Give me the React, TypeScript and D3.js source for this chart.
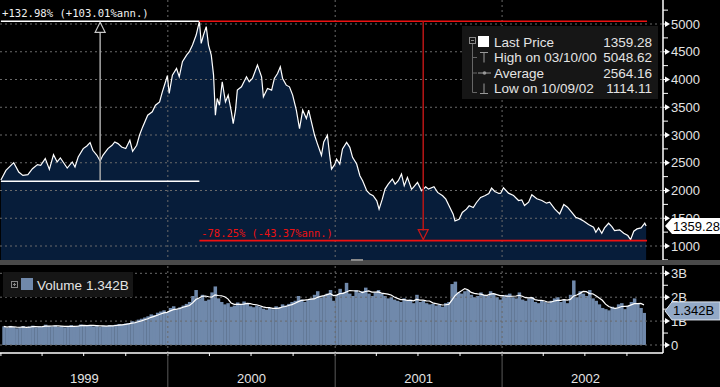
import * as d3 from 'd3';
import React, { useEffect, useRef } from 'react';

const WIDTH = 720;
const HEIGHT = 387;
const AXIS_X = 663;
const PRICE_BOTTOM = 260;
const VOL_TOP = 266;
const VOL_BOTTOM = 353;

// Weekly closes
const priceDates = [
  '1999-01-01', '1999-01-12', '1999-01-29', '1999-02-09', '1999-02-18', '1999-03-01', '1999-03-11', '1999-03-22',
  '1999-03-29', '1999-04-08', '1999-04-17', '1999-04-26', '1999-05-04', '1999-05-11', '1999-05-17', '1999-05-26',
  '1999-06-06', '1999-06-12', '1999-06-19', '1999-06-30', '1999-07-08', '1999-07-15', '1999-07-21', '1999-07-30',
  '1999-08-06', '1999-08-12', '1999-08-23', '1999-09-01', '1999-09-07', '1999-09-14', '1999-09-22', '1999-10-01',
  '1999-10-10', '1999-10-16', '1999-10-25', '1999-10-31', '1999-11-07', '1999-11-18', '1999-11-28', '1999-12-05',
  '1999-12-14', '1999-12-20', '1999-12-27', '1999-12-31',
  '2000-01-04', '2000-01-11', '2000-01-20', '2000-01-26', '2000-02-02', '2000-02-11', '2000-02-17', '2000-02-24',
  '2000-03-03', '2000-03-10', '2000-03-14', '2000-03-19', '2000-03-25', '2000-03-30', '2000-04-05', '2000-04-10',
  '2000-04-14', '2000-04-18', '2000-04-23', '2000-04-29', '2000-05-06', '2000-05-12', '2000-05-19', '2000-05-23',
  '2000-05-28', '2000-06-01', '2000-06-10', '2000-06-21', '2000-06-27', '2000-07-04', '2000-07-15', '2000-07-24',
  '2000-07-28', '2000-08-06', '2000-08-15', '2000-08-21', '2000-08-28', '2000-09-03', '2000-09-08', '2000-09-16',
  '2000-09-23', '2000-09-30', '2000-10-08', '2000-10-15', '2000-10-22', '2000-10-30', '2000-11-04', '2000-11-10',
  '2000-11-17', '2000-11-23', '2000-12-02', '2000-12-07', '2000-12-15', '2000-12-20', '2000-12-24', '2000-12-31',
  '2001-01-04', '2001-01-11', '2001-01-17', '2001-01-26', '2001-02-02', '2001-02-08', '2001-02-17', '2001-02-24',
  '2001-03-02', '2001-03-11', '2001-03-18', '2001-03-25', '2001-04-02', '2001-04-07', '2001-04-14', '2001-04-20',
  '2001-04-27', '2001-05-06', '2001-05-12', '2001-05-19', '2001-05-26', '2001-06-01', '2001-06-08', '2001-06-17',
  '2001-06-21', '2001-06-30', '2001-07-09', '2001-07-18', '2001-07-24', '2001-08-05', '2001-08-13', '2001-08-24',
  '2001-08-31', '2001-09-07', '2001-09-16', '2001-09-20', '2001-09-29', '2001-10-06', '2001-10-15', '2001-10-21',
  '2001-10-30', '2001-11-06', '2001-11-15', '2001-11-24', '2001-12-03', '2001-12-09', '2001-12-16', '2001-12-25',
  '2001-12-29',
  '2002-01-04', '2002-01-15', '2002-01-26', '2002-02-06', '2002-02-13', '2002-02-19', '2002-02-28', '2002-03-07',
  '2002-03-18', '2002-03-29', '2002-04-08', '2002-04-15', '2002-04-26', '2002-05-07', '2002-05-16', '2002-05-24',
  '2002-06-02', '2002-06-11', '2002-06-20', '2002-06-29', '2002-07-09', '2002-07-20', '2002-07-25', '2002-07-31',
  '2002-08-07', '2002-08-13', '2002-08-22', '2002-08-29', '2002-09-04', '2002-09-15', '2002-09-24', '2002-10-03',
  '2002-10-09', '2002-10-16', '2002-10-23', '2002-11-01', '2002-11-09', '2002-11-12',
];
const priceValues = [
  2190, 2363, 2502, 2333, 2273, 2285, 2393, 2466,
  2454, 2574, 2381, 2646, 2514, 2586, 2514, 2405,
  2514, 2423, 2604, 2755, 2803, 2863, 2724, 2634,
  2532, 2634, 2755, 2815, 2875, 2845, 2785, 2755,
  2905, 2706, 2815, 2995, 3146, 3357, 3417, 3537,
  3597, 3778, 3960, 4069,
  3748, 4079, 4199, 4049, 4320, 4440, 4500, 4621,
  4801, 5048.62, 4651, 4801, 4952, 4621, 4440, 4079,
  3357, 3658, 3537, 3959, 3597, 3718, 3417, 3206,
  3447, 3808, 3868, 4049, 3959, 4019, 4260, 4049,
  3688, 3838, 3808, 4019, 4109, 4229, 4019, 3898,
  3868, 3718, 3447, 3116, 3447, 3296, 3447, 3236,
  2995, 2845, 2634, 2875, 2995, 2627, 2386, 2470,
  2567, 2477, 2748, 2868, 2778, 2597, 2477, 2266,
  2176, 1995, 1935, 1905, 1814, 1664, 1844, 2025,
  2115, 2206, 2115, 2176, 2296, 2085, 2236, 2025,
  2055, 2145, 1995, 2067, 2025, 2067, 1965, 1905,
  1844, 1724, 1574, 1453, 1483, 1604, 1664, 1724,
  1694, 1784, 1875, 1905, 1947, 2043, 1983, 1947,
  1952,
  2048, 1952, 1910, 1820, 1832, 1729, 1790, 1922,
  1850, 1820, 1772, 1790, 1669, 1579, 1747, 1699,
  1609, 1519, 1489, 1447, 1386, 1338, 1248, 1326,
  1230, 1326, 1410, 1350, 1278, 1290, 1230, 1188,
  1114.11, 1266, 1308, 1326, 1410, 1359.28,
];

// Weekly volume in billions, starting the week of 1999-01-04
const volumeStart = '1999-01-04';
const volumeValues = [
  0.78, 0.72, 0.8, 0.75, 0.7, 0.74, 0.79, 0.72, 0.77, 0.81, 0.74, 0.78, 0.76,
  0.85, 0.8, 0.78, 0.82, 0.76, 0.79, 0.74, 0.77, 0.83, 0.78, 0.8, 0.86, 0.82,
  0.8, 0.84, 0.78, 0.82, 0.76, 0.8, 0.79, 0.83, 0.81, 0.85, 0.88, 0.86, 0.9,
  0.92, 1.0, 0.98, 1.06, 1.1, 1.15, 1.2, 1.28, 1.25, 1.35, 1.4, 1.45, 1.38,
  1.55, 1.62, 1.5, 1.58, 1.65, 1.72, 1.8, 2.05, 2.3, 1.95, 2.1, 1.85, 1.9,
  2.2, 2.45, 1.95, 1.8, 1.7, 1.75, 1.6, 1.65, 1.78, 1.7, 1.82, 1.75, 1.62,
  1.58, 1.65, 1.6, 1.52, 1.48, 1.55, 1.5, 1.62, 1.58, 1.7, 1.65, 1.72, 1.8,
  1.85, 2.05, 1.9, 1.8, 1.88, 1.95, 2.1, 2.25, 1.98, 2.05, 2.15, 2.3, 1.85,
  2.1, 2.35, 2.2, 2.6, 2.15, 2.05, 2.3, 2.2, 2.25, 2.4, 2.15, 2.05, 2.2,
  2.3, 2.15, 2.05, 1.95, 2.0, 1.9, 1.85, 1.8, 1.95, 1.85, 1.9, 1.75, 2.1,
  1.8, 1.85, 1.75, 1.7, 1.72, 1.65, 1.7, 1.6, 1.75, 1.8, 2.55, 2.65, 2.2,
  2.15, 2.25, 2.3, 2.1, 2.0, 2.05, 2.2, 2.1, 2.05, 2.25, 2.15, 2.0, 1.9,
  2.05, 2.1, 2.15, 2.0, 1.95, 2.2, 1.9, 1.85, 1.95, 2.0, 1.8, 1.75, 1.85,
  1.8, 1.75, 1.85, 1.95, 2.0, 1.8, 1.9, 1.75, 2.1, 2.7, 2.0, 2.25, 2.15,
  2.05, 2.3, 1.95, 1.85, 1.7, 1.55, 1.5, 1.45, 1.6, 1.55, 1.7, 1.75, 1.5,
  1.65, 1.8, 1.95, 1.75, 1.55, 1.342,
];

const priceTicks = [1000, 1500, 2000, 2500, 3000, 3500, 4000, 4500, 5000];
const volumeTicks = [0, 1, 2, 3];
const volumeTickLabels = ['0', '1B', '2B', '3B'];
const yearLabels = ['1999', '2000', '2001', '2002'];
const legendRows = [
  ['Last Price', '1359.28'],
  ['High on 03/10/00', '5048.62'],
  ['Average', '2564.16'],
  ['Low on 10/09/02', '1114.11'],
];
const gainText = '+132.98% (+103.01%ann.)';
const lossText = '-78.25% (-43.37%ann.)';
const highValue = 5048.62;
const gainPct = 132.98;
const lossPct = -78.25;
const highDate = '2000-03-10';
const endDate = '2002-11-14';
const lastPrice = '1359.28';
const lastVolume = '1.342B';

const FONT = '"Liberation Sans", Arial, sans-serif';
const MONO = '"DejaVu Sans Mono", monospace';
const NAVY = '#071d3a';
const SLATE = '#7089ab';
const TEXT = '#e4e4e4';
const GRID = '#6a6a6a';
const RED = '#ee1111';

const App = (): JSX.Element => {
  const ref = useRef<SVGSVGElement>(null);

  useEffect(() => {
    if (ref.current === null) return;
    ref.current.replaceChildren();

    const parse = d3.timeParse('%Y-%m-%d');
    const price = priceDates.map((d, i) => ({ date: parse(d) as Date, value: priceValues[i] }));
    const volStart = parse(volumeStart) as Date;
    const volume = volumeValues.map((v, i) => ({
      date: d3.timeWeek.offset(volStart, i),
      value: v,
      ma: d3.mean(volumeValues.slice(Math.max(0, i - 4), i + 1)) as number,
    }));

    const x = d3
      .scaleTime()
      .domain([new Date(1998, 11, 30), new Date(2003, 0, 1)])
      .range([0, 669]);
    const y = d3.scaleLinear().domain([1000, 5000]).range([246, 24]);
    const yv = d3.scaleLinear().domain([0, 3]).range([345, 273.3]);

    const svg = d3.select(ref.current).attr('width', WIDTH).attr('height', HEIGHT);

    svg.append('rect').attr('width', WIDTH).attr('height', HEIGHT).attr('fill', '#000');

    const defs = svg.append('defs');
    defs
      .append('clipPath')
      .attr('id', 'price-clip')
      .append('rect')
      .attr('x', 0)
      .attr('y', 0)
      .attr('width', AXIS_X)
      .attr('height', PRICE_BOTTOM);

    const years = yearLabels.map((l) => new Date(+l, 0, 1));
    const yearEdges = [...years.slice(1)];

    // Price area + line
    const priceG = svg.append('g').attr('clip-path', 'url(#price-clip)');
    priceG
      .append('path')
      .datum(price)
      .attr('fill', NAVY)
      .attr(
        'd',
        d3
          .area<{ date: Date; value: number }>()
          .x((d) => x(d.date))
          .y0(PRICE_BOTTOM)
          .y1((d) => y(d.value)),
      );

    // Price grid
    priceG
      .append('g')
      .selectAll('line')
      .data(priceTicks)
      .join('line')
      .attr('x1', 0)
      .attr('x2', AXIS_X)
      .attr('y1', (d) => y(d))
      .attr('y2', (d) => y(d))
      .attr('stroke', GRID)
      .attr('stroke-dasharray', '2,3');
    priceG
      .append('g')
      .selectAll('line')
      .data(yearEdges)
      .join('line')
      .attr('x1', (d) => x(d))
      .attr('x2', (d) => x(d))
      .attr('y1', 0)
      .attr('y2', PRICE_BOTTOM)
      .attr('stroke', GRID)
      .attr('stroke-dasharray', '2,3');

    priceG
      .append('path')
      .datum(price)
      .attr('fill', 'none')
      .attr('stroke', '#fff')
      .attr('stroke-width', 1.2)
      .attr(
        'd',
        d3
          .line<{ date: Date; value: number }>()
          .x((d) => x(d.date))
          .y((d) => y(d.value)),
      );

    // Gain annotation (white)
    const startValue = highValue / (1 + gainPct / 100);
    const xStart = x(price[0].date);
    const xHigh = x(parse(highDate) as Date);
    const xEnd = x(parse(endDate) as Date);
    const xMidGain = (xStart + xHigh) / 2;
    svg
      .append('line')
      .attr('x1', xStart)
      .attr('x2', xHigh)
      .attr('y1', y(highValue))
      .attr('y2', y(highValue))
      .attr('stroke', '#fff')
      .attr('stroke-width', 1.5);
    svg
      .append('line')
      .attr('x1', xStart)
      .attr('x2', xHigh)
      .attr('y1', y(startValue))
      .attr('y2', y(startValue))
      .attr('stroke', '#fff')
      .attr('stroke-width', 1.5);
    svg
      .append('line')
      .attr('x1', xMidGain)
      .attr('x2', xMidGain)
      .attr('y1', y(startValue))
      .attr('y2', y(highValue) + 10)
      .attr('stroke', '#a8a8a8')
      .attr('stroke-width', 1.5);
    svg
      .append('path')
      .attr(
        'd',
        `M${xMidGain},${y(highValue) + 1}L${xMidGain - 5},${y(highValue) + 11}L${xMidGain + 5},${y(highValue) + 11}Z`,
      )
      .attr('fill', '#000')
      .attr('stroke', '#c8c8c8')
      .attr('stroke-width', 1.2);
    svg
      .append('text')
      .attr('x', 2)
      .attr('y', y(highValue) - 4)
      .attr('fill', '#f0f0f0')
      .style('font', `10.6px ${MONO}`)
      .text(gainText);

    // Loss annotation (red)
    const lowValue = highValue * (1 + lossPct / 100);
    const xMidLoss = (xHigh + xEnd) / 2;
    svg
      .append('line')
      .attr('x1', xHigh)
      .attr('x2', xEnd)
      .attr('y1', y(highValue))
      .attr('y2', y(highValue))
      .attr('stroke', RED)
      .attr('stroke-width', 1.5);
    svg
      .append('line')
      .attr('x1', xHigh)
      .attr('x2', xEnd)
      .attr('y1', y(lowValue))
      .attr('y2', y(lowValue))
      .attr('stroke', RED)
      .attr('stroke-width', 1.8);
    svg
      .append('line')
      .attr('x1', xMidLoss)
      .attr('x2', xMidLoss)
      .attr('y1', y(highValue))
      .attr('y2', y(lowValue) - 10)
      .attr('stroke', '#b81616')
      .attr('stroke-width', 1.5);
    svg
      .append('path')
      .attr(
        'd',
        `M${xMidLoss},${y(lowValue) - 1}L${xMidLoss - 5},${y(lowValue) - 11}L${xMidLoss + 5},${y(lowValue) - 11}Z`,
      )
      .attr('fill', 'none')
      .attr('stroke', '#c81818')
      .attr('stroke-width', 1.2);
    svg
      .append('text')
      .attr('x', xHigh + 2)
      .attr('y', y(lowValue) - 4)
      .attr('fill', RED)
      .style('font', `10.4px ${MONO}`)
      .text(lossText);

    // Price legend
    const lg = svg.append('g');
    lg.append('rect').attr('x', 462).attr('y', 26).attr('width', 196).attr('height', 73).attr('fill', '#161616');
    const rowY = (i: number) => 42 + i * 15.5;
    lg.append('rect')
      .attr('x', 469.5)
      .attr('y', 37.5)
      .attr('width', 6)
      .attr('height', 6)
      .attr('fill', 'none')
      .attr('stroke', '#888');
    lg.append('line').attr('x1', 471).attr('x2', 474).attr('y1', 40.5).attr('y2', 40.5).attr('stroke', '#888');
    lg.append('rect').attr('x', 478).attr('y', 36).attr('width', 11).attr('height', 11).attr('fill', '#fff');
    lg.append('line')
      .attr('x1', 472.5)
      .attr('x2', 472.5)
      .attr('y1', 44)
      .attr('y2', rowY(3) + 4)
      .attr('stroke', '#666');
    [1, 2, 3].forEach((i) => {
      lg.append('line')
        .attr('x1', 472.5)
        .attr('x2', 477)
        .attr('y1', rowY(i) + (i === 3 ? 4 : 0))
        .attr('y2', rowY(i) + (i === 3 ? 4 : 0))
        .attr('stroke', '#666');
    });
    lg.append('path')
      .attr('d', `M480,${rowY(1) - 5}H488M484,${rowY(1) - 5}V${rowY(1) + 5}`)
      .attr('stroke', '#999')
      .attr('fill', 'none');
    lg.append('path').attr('d', `M478,${rowY(2)}H491`).attr('stroke', '#999');
    lg.append('circle').attr('cx', 484.5).attr('cy', rowY(2)).attr('r', 1.8).attr('fill', '#999');
    lg.append('path')
      .attr('d', `M480,${rowY(3) + 5}H488M484,${rowY(3) - 5}V${rowY(3) + 5}`)
      .attr('stroke', '#999')
      .attr('fill', 'none');
    lg.selectAll('text.lbl')
      .data(legendRows)
      .join('text')
      .attr('class', 'lbl')
      .attr('x', 494)
      .attr('y', (_, i) => rowY(i) + 4.5)
      .attr('fill', TEXT)
      .style('font', `13.5px ${FONT}`)
      .text((d) => d[0]);
    lg.selectAll('text.val')
      .data(legendRows)
      .join('text')
      .attr('class', 'val')
      .attr('x', 652)
      .attr('y', (_, i) => rowY(i) + 4.5)
      .attr('text-anchor', 'end')
      .attr('fill', TEXT)
      .style('font', `13.5px ${FONT}`)
      .text((d) => d[1]);

    // Right price axis
    const axisG = svg.append('g');
    axisG
      .append('line')
      .attr('x1', AXIS_X)
      .attr('x2', AXIS_X)
      .attr('y1', 0)
      .attr('y2', PRICE_BOTTOM)
      .attr('stroke', '#fff')
      .attr('stroke-width', 1.5);
    axisG
      .selectAll('line.minor')
      .data(d3.range(750, 5500, 250))
      .join('line')
      .attr('class', 'minor')
      .attr('x1', AXIS_X)
      .attr('x2', AXIS_X + 5)
      .attr('y1', (d) => y(d))
      .attr('y2', (d) => y(d))
      .attr('stroke', '#fff');
    const priceLabels = axisG.selectAll('g.tl').data(priceTicks).join('g').attr('class', 'tl');
    priceLabels
      .append('path')
      .attr('d', (d) => `M${AXIS_X + 2},${y(d) - 3}L${AXIS_X + 7},${y(d)}L${AXIS_X + 2},${y(d) + 3}Z`)
      .attr('fill', '#fff');
    priceLabels
      .append('text')
      .attr('x', AXIS_X + 8)
      .attr('y', (d) => y(d) + 4.5)
      .attr('fill', TEXT)
      .style('font', `13px ${FONT}`)
      .text((d) => d);

    const yLast = y(+lastPrice);
    axisG
      .append('path')
      .attr(
        'd',
        `M${AXIS_X + 2},${yLast}L${AXIS_X + 9},${yLast - 8}H720V${yLast + 8}H${AXIS_X + 9}Z`,
      )
      .attr('fill', '#fff');
    axisG
      .append('text')
      .attr('x', AXIS_X + 10)
      .attr('y', yLast + 4.5)
      .attr('fill', '#000')
      .style('font', `13px ${FONT}`)
      .text(lastPrice);

    // Panel separator
    svg.append('rect').attr('x', 0).attr('y', 260).attr('width', WIDTH).attr('height', 5).attr('fill', '#4a4a4a');
    svg.append('rect').attr('x', 351).attr('y', 259).attr('width', 12).attr('height', 2).attr('fill', '#8a8a8a');

    // Volume panel
    const volG = svg.append('g');
    volG
      .selectAll('rect')
      .data(volume)
      .join('rect')
      .attr('x', (d) => x(d.date))
      .attr('width', (d) => x(d3.timeWeek.offset(d.date, 1)) - x(d.date) + 0.3)
      .attr('y', (d) => yv(d.value))
      .attr('height', (d) => yv(0) - yv(d.value))
      .attr('fill', SLATE);
    volG
      .append('g')
      .selectAll('line')
      .data(volumeTicks)
      .join('line')
      .attr('x1', 0)
      .attr('x2', AXIS_X)
      .attr('y1', (d) => yv(d))
      .attr('y2', (d) => yv(d))
      .attr('stroke', GRID)
      .attr('stroke-dasharray', '2,3');
    volG
      .append('g')
      .selectAll('line')
      .data(yearEdges)
      .join('line')
      .attr('x1', (d) => x(d))
      .attr('x2', (d) => x(d))
      .attr('y1', VOL_TOP)
      .attr('y2', VOL_BOTTOM)
      .attr('stroke', GRID)
      .attr('stroke-dasharray', '2,3');
    volG
      .append('path')
      .datum(volume)
      .attr('fill', 'none')
      .attr('stroke', '#fff')
      .attr('stroke-width', 1.2)
      .attr(
        'd',
        d3
          .line<{ date: Date; ma: number }>()
          .x((d) => x(d.date) + 1.5)
          .y((d) => yv(d.ma)),
      );

    // Volume legend
    const vl = svg.append('g');
    vl.append('rect').attr('x', 3).attr('y', 272).attr('width', 130).attr('height', 25).attr('fill', '#161616');
    vl.append('rect')
      .attr('x', 11.5)
      .attr('y', 281.5)
      .attr('width', 6)
      .attr('height', 6)
      .attr('fill', 'none')
      .attr('stroke', '#888');
    vl.append('path').attr('d', 'M13,284.5H16M14.5,283V286').attr('stroke', '#888');
    vl.append('rect').attr('x', 21).attr('y', 278).attr('width', 12).attr('height', 12).attr('fill', SLATE);
    vl.append('text')
      .attr('x', 37)
      .attr('y', 289.5)
      .attr('fill', TEXT)
      .style('font', `13.5px ${FONT}`)
      .text('Volume');
    vl.append('text')
      .attr('x', 86)
      .attr('y', 289.5)
      .attr('fill', TEXT)
      .style('font', `13.5px ${FONT}`)
      .text(lastVolume);

    // Right volume axis
    axisG
      .append('line')
      .attr('x1', AXIS_X)
      .attr('x2', AXIS_X)
      .attr('y1', VOL_TOP)
      .attr('y2', VOL_BOTTOM)
      .attr('stroke', '#fff')
      .attr('stroke-width', 1.5);
    axisG
      .selectAll('line.vminor')
      .data(d3.range(0, 3.5, 0.5))
      .join('line')
      .attr('class', 'vminor')
      .attr('x1', AXIS_X)
      .attr('x2', AXIS_X + 5)
      .attr('y1', (d) => yv(d))
      .attr('y2', (d) => yv(d))
      .attr('stroke', '#fff');
    const volLabels = axisG.selectAll('g.vl').data(volumeTicks).join('g').attr('class', 'vl');
    volLabels
      .append('path')
      .attr('d', (d) => `M${AXIS_X + 2},${yv(d) - 3}L${AXIS_X + 7},${yv(d)}L${AXIS_X + 2},${yv(d) + 3}Z`)
      .attr('fill', '#fff');
    volLabels
      .append('text')
      .attr('x', AXIS_X + 8)
      .attr('y', (d) => yv(d) + 4.5)
      .attr('fill', TEXT)
      .style('font', `13px ${FONT}`)
      .text((_, i) => volumeTickLabels[i]);
    const yLastV = yv(1.342) - 2;
    axisG
      .append('path')
      .attr(
        'd',
        `M${AXIS_X + 2},${yLastV}L${AXIS_X + 9},${yLastV - 9}H720V${yLastV + 9}H${AXIS_X + 9}Z`,
      )
      .attr('fill', '#93a9c6')
      .attr('stroke', '#dfe6ee')
      .attr('stroke-width', 1);
    axisG
      .append('text')
      .attr('x', AXIS_X + 10)
      .attr('y', yLastV + 4.5)
      .attr('fill', '#000')
      .style('font', `13px ${FONT}`)
      .text(lastVolume);

    // Bottom time axis
    const bottom = svg.append('g');
    bottom
      .append('line')
      .attr('x1', 0)
      .attr('x2', AXIS_X)
      .attr('y1', VOL_BOTTOM)
      .attr('y2', VOL_BOTTOM)
      .attr('stroke', '#fff')
      .attr('stroke-width', 1.5);
    bottom
      .selectAll('line.q')
      .data(d3.timeMonth.every(3)!.range(new Date(1999, 0, 1), new Date(2002, 11, 1)))
      .join('line')
      .attr('class', 'q')
      .attr('x1', (d) => Math.max(0.5, x(d)))
      .attr('x2', (d) => Math.max(0.5, x(d)))
      .attr('y1', VOL_BOTTOM)
      .attr('y2', VOL_BOTTOM + 3)
      .attr('stroke', '#fff');
    bottom
      .selectAll('line.yr')
      .data(yearEdges)
      .join('line')
      .attr('class', 'yr')
      .attr('x1', (d) => x(d))
      .attr('x2', (d) => x(d))
      .attr('y1', VOL_BOTTOM)
      .attr('y2', HEIGHT)
      .attr('stroke', '#5a5a5a');
    bottom
      .selectAll('text')
      .data(years)
      .join('text')
      .attr('x', (d) => (Math.max(0, x(d)) + x(d3.timeYear.offset(d, 1))) / 2)
      .attr('y', 383)
      .attr('text-anchor', 'middle')
      .attr('fill', TEXT)
      .style('font', `13px ${FONT}`)
      .text((_, i) => yearLabels[i]);
  }, [ref]);

  return (
    <div style={{ position: 'fixed', left: 0, top: 0, width: WIDTH, height: HEIGHT, background: '#000' }}>
      <svg ref={ref} style={{ display: 'block' }} />
    </div>
  );
};

export default App;
